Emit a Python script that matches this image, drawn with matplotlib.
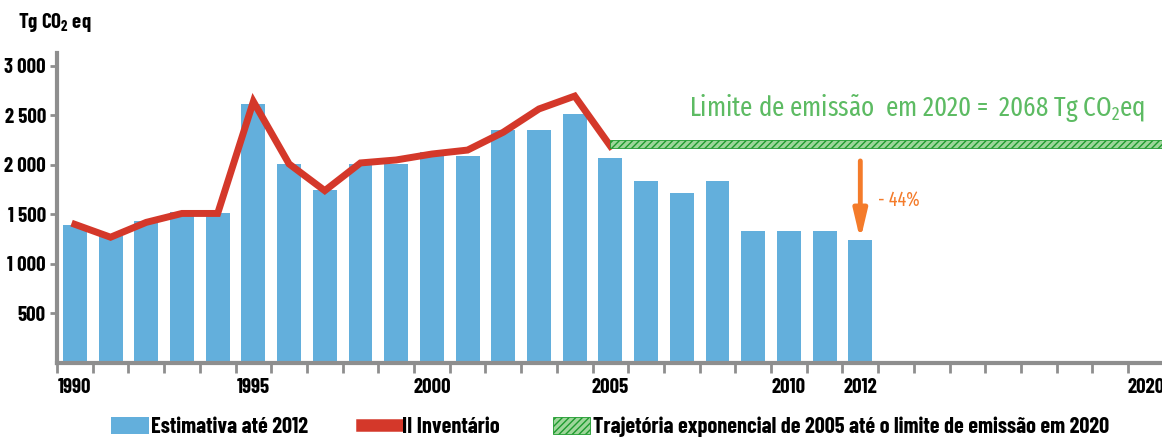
import matplotlib
matplotlib.use('Agg')
import matplotlib.pyplot as plt
from matplotlib.patches import Patch
from matplotlib.lines import Line2D

NARROW = ['Barlow Condensed', 'DejaVu Sans']
GREENFONT = ['Fira Sans Extra Condensed', 'DejaVu Sans']
plt.rcParams['font.family'] = NARROW

BLUE = '#63AFDC'; RED = '#D4382A'; GREEN = '#5DBB63'; DKGREEN = '#1E9B2E'
ORANGE = '#F47B2A'; AXIS = '#8E8E8E'; BAND = '#9ED69A'

# estimativa (barras)
years = [1990, 1991, 1992, 1993, 1994, 1995, 1996, 1997, 1998, 1999, 2000, 2001,
         2002, 2003, 2004, 2005, 2006, 2007, 2008, 2009, 2010, 2011, 2012]
estimativa = [1390, 1280, 1430, 1520, 1510, 2620, 2010, 1750, 2010, 2010, 2130, 2090,
              2350, 2350, 2515, 2070, 1840, 1720, 1840, 1335, 1335, 1335, 1240]
# II Inventário (linha)
inv_years = [1990, 1991, 1992, 1993, 1994, 1995, 1996, 1997, 1998, 1999, 2000, 2001,
             2002, 2003, 2004, 2005]
inventario = [1400, 1270, 1420, 1510, 1510, 2640, 2010, 1740, 2020, 2050, 2110, 2150,
              2330, 2565, 2695, 2190]
# trajetória até o limite de 2020
traj_years = [2005, 2021]
traj_low = [2170, 2170]
traj_high = [2250, 2250]
# redução até 2012
arrow_from, arrow_to = 2040, 1240

fig = plt.figure(figsize=(11.62, 4.37), dpi=100)
ax = fig.add_axes([57/1162, 74/437, 1 - 57/1162, 310/437])

ax.bar([y + 0.5 for y in years], estimativa, width=0.67, color=BLUE, zorder=2)
ax.plot([y + 0.5 for y in inv_years], inventario, color=RED, lw=5, zorder=3,
        solid_joinstyle='miter')
ax.fill_between([y + 0.5 for y in traj_years], traj_low, traj_high, facecolor=BAND,
                edgecolor=DKGREEN, hatch='/////', lw=0.6, zorder=3)

ax.annotate('', xy=(2012.5, arrow_to), xytext=(2012.5, arrow_from),
            arrowprops=dict(arrowstyle='-|>,head_width=0.4,head_length=1.7',
                            color=ORANGE, lw=3.5, shrinkA=0, shrinkB=0), zorder=4)
ax.text(2013.0, 1650, '- 44%', color=ORANGE, fontsize=14, va='center', ha='left',
        family=GREENFONT)
ax.text(2007.7, 2570, 'Limite de emissão  em 2020 =  2068 Tg CO$_\\mathregular{2}$eq',
        color=GREEN, fontsize=19.5, va='center', ha='left', family=GREENFONT)

ax.set_xlim(1990, 2020.95)
ax.set_ylim(0, 3130)

ax.set_yticks([500, 1000, 1500, 2000, 2500, 3000])
ax.set_yticklabels(['500', '1 000', '1 500', '2 000', '2 500', '3 000'],
                   fontsize=15, fontweight='bold')
ax.set_xticks(range(1990, 2021))
ax.set_xticklabels([])
ax.set_xticks([y + 0.5 for y in [1990, 1995, 2000, 2005, 2010, 2012, 2020]], minor=True)
ax.set_xticklabels(['1990', '1995', '2000', '2005', '2010', '2012', '2020'], minor=True,
                   fontsize=15, fontweight='bold')
ax.tick_params(axis='x', which='major', length=7, width=2, color=AXIS, direction='out')
ax.tick_params(axis='x', which='minor', length=0, pad=11)
ax.tick_params(axis='y', length=5, width=2, color=AXIS, pad=3)

for s in ['top', 'right']:
    ax.spines[s].set_visible(False)
for s in ['left', 'bottom']:
    ax.spines[s].set_color(AXIS)
    ax.spines[s].set_linewidth(3)

fig.text(18/1162, 1 - 22/437, 'Tg CO$_\\mathregular{2}$ eq', fontsize=15, fontweight='bold',
         va='center', ha='left')

handles = [Patch(facecolor=BLUE, edgecolor='none'),
           Line2D([0], [0], color=RED, lw=9),
           Patch(facecolor=BAND, edgecolor=DKGREEN, hatch='/////', lw=0.6)]
labels = ['Estimativa até 2012', 'II Inventário',
          'Trajetória exponencial de 2005 até o limite de emissão em 2020']
fig.legend(handles, labels, loc='center', bbox_to_anchor=(610/1162, 1 - 427/437), ncol=3,
           frameon=False, prop={'size': 16, 'weight': 'bold', 'family': NARROW},
           handlelength=1.7, handleheight=0.8, handletextpad=0.1, columnspacing=2.4)

fig.savefig('out.png', dpi=100)
